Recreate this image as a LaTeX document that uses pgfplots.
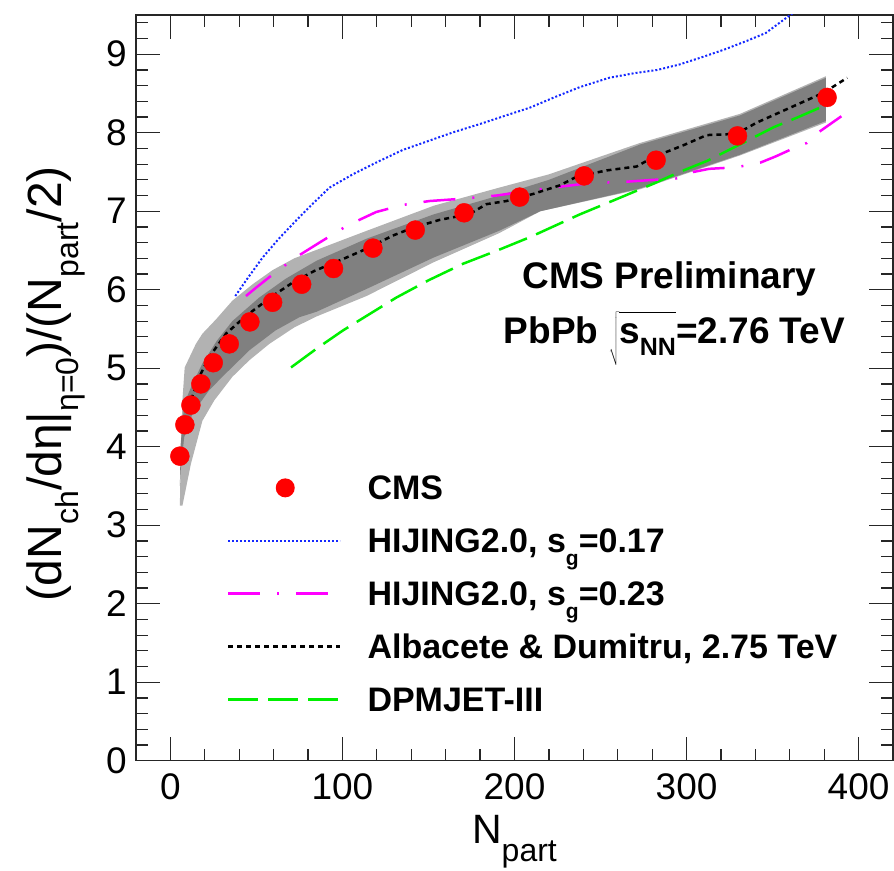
\documentclass[border=0pt]{standalone}
\usepackage{fontspec}
\setmainfont{Liberation Sans}
\usepackage{pgfplots}
\pgfplotsset{compat=1.18}
\definecolor{lgray}{RGB}{178,178,178}
\definecolor{dgray}{RGB}{128,128,128}
\definecolor{hblue}{RGB}{20,40,255}
\definecolor{hmag}{RGB}{255,0,255}
\definecolor{dgreen}{RGB}{0,240,0}
\definecolor{cmsred}{RGB}{255,0,0}
\newcommand{\fs}[1]{\fontsize{#1}{#1}\selectfont}
\newcommand{\lo}[3]{\raisebox{-#1}{\fs{#2}#3}}
\begin{document}
\begin{tikzpicture}
\begin{axis}[
  at={(136pt,109.3pt)}, anchor=south west,
  width=757pt, height=745.7pt, scale only axis,
  xmin=-20, xmax=420, ymin=0, ymax=9.5,
  xtick={0,100,200,300,400}, ytick={0,1,2,3,4,5,6,7,8,9},
  minor xtick={-20,20,40,60,80,120,140,160,180,220,240,260,280,320,340,360,380,420},
  minor ytick={0.2,0.4,0.6,0.8,1.2,1.4,1.6,1.8,2.2,2.4,2.6,2.8,3.2,3.4,3.6,3.8,4.2,4.4,4.6,4.8,5.2,5.4,5.6,5.8,6.2,6.4,6.6,6.8,7.2,7.4,7.6,7.8,8.2,8.4,8.6,8.8,9.2,9.4},
  tick align=inside, tick pos=both,
  major tick length=24pt, minor tick length=12pt,
  every tick/.style={black!85, line width=1.2pt},
  axis line style={black!85, line width=1.3pt},
  /pgf/number format/assume math mode=true,
  ticklabel style={font=\fs{37}},
  xticklabel style={inner sep=0pt, anchor=north, yshift=-13pt},
  yticklabel style={inner sep=0pt, anchor=east, xshift=-9pt},
  xlabel={N\lo{18pt}{32}{part}},
  xlabel style={font=\fs{41}, at={(axis description cs:0.5,0)}, anchor=base, yshift=-83pt},
  ylabel={(dN\lo{17pt}{32}{ch}/dη|\lo{17pt}{32}{η=0})/(N\lo{17pt}{32}{part}/2)},
  ylabel style={font=\fs{48}, at={(axis description cs:-0.0978,0.505)}, rotate=0, anchor=base},
  legend image code/.code={\draw[#1] (0pt,0pt) -- (112pt,0pt);},
  legend cell align=left,
  legend style={at={(axis cs:32.9,3.627)}, anchor=north west, draw=none, fill=none,
    inner xsep=0pt, inner ysep=0pt, outer sep=0pt, row sep=29pt,
    font=\fs{34}\bfseries,
    nodes={inner sep=0pt, text depth=0pt},
    column 2/.style={nodes={text height=24pt, text depth=0pt}},
    /tikz/every odd column/.style={column sep=26pt}},
]
% outer (light) systematic band
\addplot[fill=lgray, draw=none, forget plot] coordinates {
 (5.5,3.25) (6,3.9) (7,4.6) (8.3,5.01) (14.8,5.31) (18.6,5.44) (26.4,5.62) (36,5.86)
 (47.8,6.07) (59.4,6.25) (72,6.40) (84,6.50) (114,6.75) (153,7.07) (191,7.30) (220,7.47)
 (273,7.87) (331,8.24) (381,8.72)
 (381,8.13) (331,7.71) (273,7.28) (215,7.00) (191,6.72) (153,6.35) (114,5.92) (85,5.66)
 (72,5.52) (57.5,5.31) (45.8,5.10) (36,4.89) (25.5,4.59) (18.6,4.33) (11.9,3.78) (7,3.25)
} -- cycle;
% inner (dark) band
\addplot[fill=dgray, draw=none, forget plot] coordinates {
 (5.5,3.5) (6,4.04) (8,4.55) (12.8,4.80) (18.6,5.06) (27,5.35) (36,5.60) (51.6,5.90)
 (67,6.14) (85,6.37) (114,6.65) (153,6.96) (191,7.20) (220,7.40) (273,7.85) (331,8.22) (381,8.70)
 (381,8.15) (331,7.72) (273,7.29) (215,7.0) (191,6.75) (153,6.41) (114,6.01) (85,5.72)
 (75,5.65) (61,5.48) (46,5.23) (32,4.93) (22.5,4.72) (12.8,4.42) (8,4.12) (6,3.7) (5.5,3.5)
} -- cycle;
% CMS points
\addplot[only marks, mark=*, mark size=9.5pt, color=cmsred, forget plot] coordinates {
 (5.5,3.88) (8.4,4.28) (11.9,4.53) (17.7,4.80) (24.9,5.07) (34.2,5.31) (46.2,5.59)
 (59.4,5.84) (76.3,6.07) (94.8,6.27) (117.7,6.53) (142.3,6.76) (170.7,6.98) (203,7.18)
 (240.5,7.45) (282.3,7.65) (329.6,7.96) (381.7,8.45)
};
% DPMJET-III
\addplot[dgreen, line width=2.5pt, dash pattern=on 30pt off 10pt, forget plot] coordinates {
 (70.1,5.01) (85,5.25) (100.2,5.48) (115,5.68) (131.3,5.90) (150,6.12) (170,6.33) (190,6.50)
 (209,6.67) (238,6.96) (260,7.16) (280.7,7.35) (296,7.50) (311.8,7.64) (331,7.85)
 (350.6,8.07) (365,8.20) (379.7,8.34)
};
% HIJING sg=0.23
\addplot[hmag, line width=2.5pt, dash pattern=on 32pt off 17pt on 2pt off 17pt, forget plot] coordinates {
 (43.9,5.92) (50,6.03) (57.5,6.16) (72,6.40) (86.6,6.60) (103,6.82) (119.6,6.99) (135,7.08)
 (150.6,7.13) (170,7.16) (189.5,7.20) (214.7,7.28) (244,7.36) (261,7.37) (281,7.40)
 (296,7.42) (304,7.50) (313,7.54) (329,7.56) (343,7.62) (352,7.70) (360,7.78) (370,7.87)
 (377,8.01) (390,8.21)
};
% HIJING sg=0.17
\addplot[hblue, line width=2pt, dash pattern=on 2pt off 2pt, forget plot] coordinates {
 (37.7,5.92) (45,6.15) (53.6,6.41) (63,6.65) (73,6.88) (82,7.08) (92.4,7.30) (106,7.47)
 (121.5,7.64) (135,7.78) (150.6,7.90) (165,8.01) (179.8,8.11) (195,8.22) (209,8.32)
 (223,8.45) (237.8,8.58) (255,8.70) (270,8.76) (283,8.80) (296,8.87) (310,8.97)
 (322,9.06) (335,9.17) (346,9.27) (358.4,9.47) (364,9.56)
};
% Albacete & Dumitru
\addplot[black, line width=2.5pt, dash pattern=on 5pt off 4pt, forget plot] coordinates {
 (12,4.6) (17.7,4.93) (22.5,5.14) (32.3,5.44) (40,5.59) (47.8,5.73) (59.4,5.92) (71,6.09)
 (83.7,6.24) (100.2,6.39) (113.8,6.52) (129.3,6.69) (141,6.79) (156.5,6.89) (166,6.93)
 (172,6.94) (183.7,7.09) (195.3,7.13) (210.8,7.22) (226.4,7.33) (236.1,7.44) (253.6,7.52)
 (271,7.57) (280.7,7.69) (298.1,7.84) (311.7,7.97) (323.3,7.98) (331,8.01) (340.9,8.13)
 (360.3,8.32) (379.7,8.51) (393.4,8.70)
};
% legend
\addlegendimage{legend image code/.code={\path[draw=none] (0pt,0pt) -- (112pt,0pt); \fill[cmsred, draw=none] (57pt,0pt) circle (9.5pt);}}
\addlegendentry{CMS}
\addlegendimage{hblue, line width=2pt, dash pattern=on 2pt off 2pt}
\addlegendentry{HIJING2.0, s\lo{13pt}{21}{g}=0.17}
\addlegendimage{hmag, line width=2.5pt, dash pattern=on 32pt off 17pt on 2pt off 17pt}
\addlegendentry{HIJING2.0, s\lo{13pt}{21}{g}=0.23}
\addlegendimage{black, line width=2.5pt, dash pattern=on 5pt off 4pt}
\addlegendentry{Albacete \& Dumitru, 2.75 TeV}
\addlegendimage{dgreen, line width=2.5pt, dash pattern=on 30pt off 10pt}
\addlegendentry{DPMJET-III}
% annotations
\node[anchor=base, font=\fs{37}\bfseries] at (axis cs:290,6.02) {CMS Preliminary};
\node[anchor=base, font=\fs{37}\bfseries] at (axis cs:293,5.32) {PbPb $\sqrt{\hbox{\vrule height 28pt depth 20pt width 0pt s\lo{12pt}{25}{NN}}}$=2.76 TeV};
\end{axis}
\pgfresetboundingbox
\useasboundingbox (0,0) rectangle (894pt,870pt);
\end{tikzpicture}
\end{document}
